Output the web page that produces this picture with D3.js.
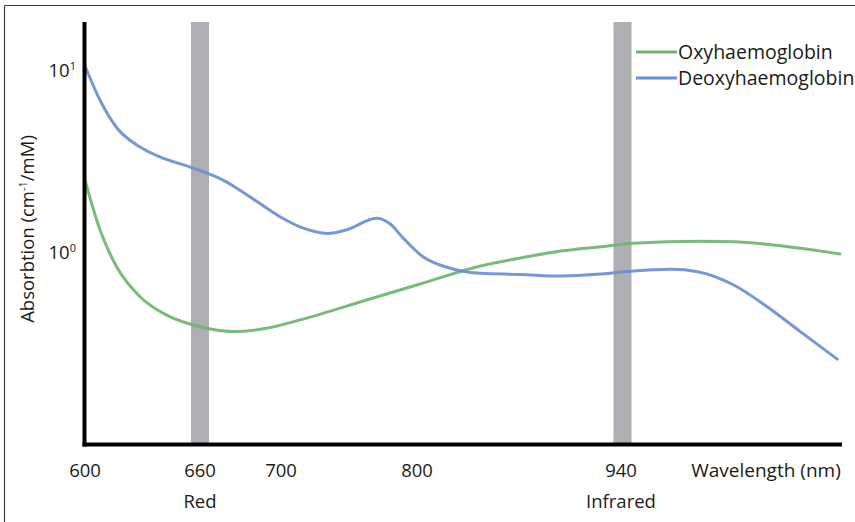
<!DOCTYPE html>
<html>
<head>
<meta charset="utf-8">
<script src="https://cdn.jsdelivr.net/npm/d3@7"></script>
<style>
  html, body { margin: 0; padding: 0; background: #fff; }
  svg { display: block; }
  text { font-family: "Open Sans", "Noto Sans", sans-serif; fill: #1a1a1a; }
</style>
</head>
<body>
<svg id="chart" width="855" height="522"></svg>
<script>
// ---- data ----
const tickWavelengths = [600, 660, 700, 800, 940];
const bandWavelengths = [660, 940];
const bandLabels = ["Red", "Infrared"];
const yTickValues = [10, 1];
const yTickExponents = ["1", "0"];

const oxyWavelength = [600, 607.8, 616.5, 628.7, 642.6, 654.8, 663.3, 676.3, 692.9, 714, 765.4, 802.1, 843.2, 870.7, 898.1, 925.6, 947.8, 997.7, 1021.8, 1046.4, 1070.8, 1100];
const oxyValues     = [2.51, 1.34, 0.841, 0.576, 0.457, 0.408, 0.387, 0.371, 0.387, 0.430, 0.560, 0.676, 0.849, 0.939, 1.025, 1.083, 1.13, 1.159, 1.153, 1.116, 1.061, 0.987];

const deoxyWavelength = [600, 607.8, 616.7, 628.7, 639.1, 654.8, 663.5, 671.4, 684.7, 699.5, 714, 734.6, 748.3, 770.4, 779.9, 789.7, 804.1, 820.4, 829.5, 843.2, 870.7, 898.1, 925.6, 947.8, 975.8, 995.3, 1021.8, 1046.4, 1070.8, 1098];
const deoxyValues     = [10.59, 6.89, 4.84, 3.81, 3.36, 2.96, 2.74, 2.51, 2.03, 1.58, 1.39, 1.28, 1.34, 1.55, 1.45, 1.21, 0.954, 0.835, 0.80, 0.774, 0.763, 0.748, 0.767, 0.797, 0.814, 0.790, 0.668, 0.508, 0.371, 0.262];

const seriesNames = ["Oxyhaemoglobin", "Deoxyhaemoglobin"];
const seriesColors = ["#6db56f", "#6a8fd2"];

// ---- drawing ----
const svg = d3.select("#chart");

// frame (left + top borders)
svg.append("line").attr("x1", 4.5).attr("y1", 5.5).attr("x2", 855).attr("y2", 5.5)
  .attr("stroke", "#3a3a3a").attr("stroke-width", 1.2);
svg.append("line").attr("x1", 4.5).attr("y1", 5.5).attr("x2", 4.5).attr("y2", 522)
  .attr("stroke", "#3a3a3a").attr("stroke-width", 1.2);

const x = d3.scaleLinear()
  .domain([600, 660, 700, 800, 940, 1100])
  .range([85, 200, 281, 417, 622.5, 840]);

const y = d3.scaleLog()
  .domain([0.1, 10])
  .range([435.5, 70.5]);

const plotTop = 22, plotBottom = 444.5, axisLeft = 84.5, axisRight = 842;

// bands
svg.append("g").selectAll("rect")
  .data(bandWavelengths)
  .join("rect")
  .attr("x", d => x(d) - 9)
  .attr("y", plotTop)
  .attr("width", 18)
  .attr("height", plotBottom - plotTop)
  .attr("fill", "#aeafb3");

// lines
const series = [
  { name: seriesNames[0], color: seriesColors[0], pts: oxyWavelength.map((w, i) => [w, oxyValues[i]]) },
  { name: seriesNames[1], color: seriesColors[1], pts: deoxyWavelength.map((w, i) => [w, deoxyValues[i]]) }
];
const line = d3.line()
  .x(d => x(d[0]))
  .y(d => y(d[1]))
  .curve(d3.curveMonotoneX);

svg.append("g").selectAll("path")
  .data(series)
  .join("path")
  .attr("d", d => line(d.pts))
  .attr("fill", "none")
  .attr("stroke", d => d.color)
  .attr("stroke-width", 3)
  .attr("stroke-opacity", 0.92)
  .attr("stroke-linecap", "round");

// axes lines
svg.append("line").attr("x1", axisLeft).attr("y1", plotTop).attr("x2", axisLeft).attr("y2", plotBottom + 2)
  .attr("stroke", "#000").attr("stroke-width", 4);
svg.append("line").attr("x1", axisLeft - 2).attr("y1", plotBottom).attr("x2", axisRight).attr("y2", plotBottom)
  .attr("stroke", "#000").attr("stroke-width", 4);

// x tick labels
svg.append("g").selectAll("text")
  .data(tickWavelengths)
  .join("text")
  .attr("x", d => x(d) - (d === 940 ? 1.5 : 0))
  .attr("y", 477)
  .attr("text-anchor", "middle")
  .attr("font-size", 18.5)
  .text(d => d);

svg.append("text")
  .attr("x", 766).attr("y", 477)
  .attr("text-anchor", "middle")
  .attr("font-size", 19)
  .text("Wavelength (nm)");

svg.append("g").selectAll("text")
  .data(bandWavelengths)
  .join("text")
  .attr("x", d => x(d) - (d === 940 ? 1.5 : 0))
  .attr("y", 508)
  .attr("text-anchor", "middle")
  .attr("font-size", 18.5)
  .text((d, i) => bandLabels[i]);

// y tick labels
const yl = svg.append("g").selectAll("text")
  .data(yTickValues)
  .join("text")
  .attr("x", 76)
  .attr("y", d => y(d) + 6)
  .attr("text-anchor", "end")
  .attr("font-size", 18.5);
yl.append("tspan").text("10");
yl.append("tspan")
  .attr("dy", -7)
  .attr("font-size", 11)
  .text((d, i) => yTickExponents[i]);

// y title
const yt = svg.append("text")
  .attr("transform", "translate(34,229) rotate(-90)")
  .attr("text-anchor", "middle")
  .attr("font-size", 18.5);
yt.append("tspan").text("Absorbtion (cm");
yt.append("tspan").attr("dy", -7).attr("font-size", 11).text("-1");
yt.append("tspan").attr("dy", 7).text("/mM)");

// legend
const lg = svg.append("g").selectAll("g")
  .data(series)
  .join("g")
  .attr("transform", (d, i) => `translate(636, ${52 + i * 26})`);
lg.append("line")
  .attr("x1", 0).attr("x2", 41).attr("y1", 0).attr("y2", 0)
  .attr("stroke", d => d.color).attr("stroke-width", 3);
lg.append("text")
  .attr("x", 42).attr("y", 7)
  .attr("font-size", 19.5)
  .text(d => d.name);
</script>
</body>
</html>
